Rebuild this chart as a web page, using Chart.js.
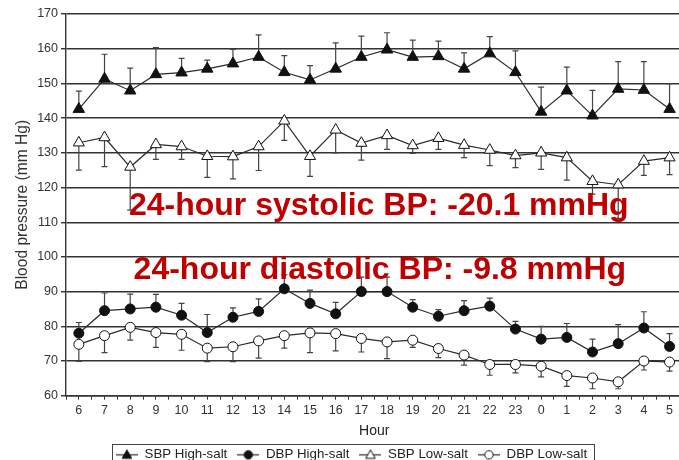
<!DOCTYPE html>
<html>
<head>
<meta charset="utf-8">
<title>24-hour blood pressure: high-salt vs low-salt diet</title>
<script src="https://cdn.jsdelivr.net/npm/chart.js@4.4.1/dist/chart.umd.min.js"></script>
<style>
  html, body { margin: 0; padding: 0; background: #fff; overflow: hidden; }
  #wrap { position: relative; width: 679px; height: 460px; overflow: hidden; background: #fff; }
  #bp { position: absolute; left: 0; top: 0; }
</style>
</head>
<body>
<div id="wrap"><canvas id="bp" width="690" height="471"></canvas></div>
<script>
// Clock hours, starting at 6 in the morning
const hours = ['6','7','8','9','10','11','12','13','14','15','16','17',
               '18','19','20','21','22','23','0','1','2','3','4','5'];

// Hourly means (mm Hg)
const sbpHigh = [142.6, 151.3, 147.9, 152.6, 153.1, 154.2, 155.7, 157.6, 153.2, 151.0, 154.2, 157.6,
                 159.7, 157.6, 157.8, 154.2, 158.6, 153.2, 141.8, 147.9, 140.7, 148.4, 148.1, 142.6];
const dbpHigh = [78.0, 84.5, 85.0, 85.5, 83.2, 78.2, 82.6, 84.3, 90.8, 86.6, 83.6, 90.0,
                 90.0, 85.5, 82.9, 84.5, 85.8, 79.2, 76.3, 76.8, 72.6, 75.0, 79.5, 74.2];
const sbpLow  = [132.9, 134.4, 125.9, 132.4, 131.8, 129.0, 128.9, 131.8, 139.2, 129.0, 136.6, 132.8,
                 135.0, 132.1, 134.2, 132.2, 130.8, 129.2, 130.0, 128.6, 121.8, 120.8, 127.6, 128.6];
const dbpLow  = [74.8, 77.3, 79.7, 78.2, 77.7, 73.7, 74.1, 75.8, 77.3, 78.1, 77.9, 76.5,
                 75.5, 76.0, 73.6, 71.7, 69.0, 69.0, 68.5, 65.8, 65.1, 64.0, 70.0, 69.7];

// Error bar lengths (mm Hg); high-salt bars point up, low-salt bars point down
const sbpHighErr = [5.2, 7.1, 6.5, 7.7, 4.1, 2.5, 4.1, 6.4, 4.8, 4.1, 7.5, 6.0,
                    4.9, 4.9, 4.4, 4.6, 4.9, 6.2, 7.1, 6.8, 7.3, 7.9, 8.2, 7.3];
const dbpHighErr = [3.1, 5.1, 4.3, 3.7, 3.4, 5.2, 2.7, 3.6, 4.0, 3.8, 3.3, 4.2,
                    4.2, 2.2, 1.9, 2.9, 2.3, 2.2, 3.7, 4.0, 3.7, 5.5, 4.7, 3.7];
const sbpLowErr  = [7.9, 8.4, 12.4, 4.3, 3.7, 6.1, 6.4, 6.9, 5.6, 5.8, 6.6, 4.9,
                    4.0, 2.3, 3.2, 3.6, 4.5, 3.5, 4.8, 6.5, 3.7, 9.7, 4.1, 4.9];
const dbpLowErr  = [4.9, 4.9, 3.7, 4.3, 4.6, 3.9, 4.3, 5.0, 3.6, 5.7, 5.0, 3.9,
                    4.8, 2.1, 2.6, 2.9, 3.1, 2.4, 3.1, 3.1, 3.1, 2.0, 2.6, 2.6];

// Y axis ticks
const yTicks = [60, 70, 80, 90, 100, 110, 120, 130, 140, 150, 160, 170];

// Summary differences written across the plot
const notes = ['24-hour systolic BP: -20.1 mmHg', '24-hour diastolic BP: -9.8 mmHg'];

const INK = '#2a2a2a';
const FONT = '"Liberation Sans", Arial, Helvetica, sans-serif';

const toPoints = vals => vals.map((v, i) => ({ x: i, y: v }));

// Small line-plus-marker swatches for the legend
function swatch(kind) {
  const c = document.createElement('canvas');
  c.width = 22; c.height = 14;
  const g = c.getContext('2d');
  g.strokeStyle = INK; g.lineWidth = 1.2;
  g.beginPath(); g.moveTo(0, 7.5); g.lineTo(22, 7.5); g.stroke();
  g.lineWidth = 1;
  g.beginPath();
  if (kind.startsWith('tri')) {
    g.moveTo(11, 2.5); g.lineTo(15.8, 11); g.lineTo(6.2, 11); g.closePath();
  } else {
    g.arc(11, 7.5, 4.2, 0, Math.PI * 2);
  }
  g.fillStyle = kind.endsWith('Filled') ? '#111' : '#fff';
  g.fill(); g.strokeStyle = '#111'; g.stroke();
  return c;
}

function series(label, vals, errs, dir, style, filled, radius) {
  return {
    label,
    data: toPoints(vals),
    errs, dir,
    swatch: swatch((style === 'triangle' ? 'tri' : 'circ') + (filled ? 'Filled' : 'Open')),
    borderColor: INK,
    borderWidth: 1.2,
    pointStyle: style,
    pointRadius: radius,
    pointBorderWidth: 1,
    pointBorderColor: '#111',
    pointBackgroundColor: filled ? '#111' : '#fff',
    fill: false,
    tension: 0
  };
}

// Error bars: a stem from the mean plus a short cap
const errorBars = {
  id: 'errorBars',
  beforeDatasetsDraw(chart) {
    const { ctx, scales: { x, y } } = chart;
    ctx.save();
    ctx.strokeStyle = '#444';
    ctx.lineWidth = 1.2;
    chart.data.datasets.forEach(ds => {
      ds.errs.forEach((e, i) => {
        const v = ds.data[i].y;
        const px = x.getPixelForValue(i);
        const y0 = y.getPixelForValue(v);
        const y1 = y.getPixelForValue(v + ds.dir * e);
        ctx.beginPath();
        ctx.moveTo(px, y0); ctx.lineTo(px, y1);
        ctx.moveTo(px - 3, y1); ctx.lineTo(px + 3, y1);
        ctx.stroke();
      });
    });
    ctx.restore();
  }
};

// Red summary notes
const summaryNotes = {
  id: 'summaryNotes',
  afterDatasetsDraw(chart) {
    const { ctx, scales: { x, y } } = chart;
    ctx.save();
    ctx.fillStyle = '#c00000';
    ctx.font = 'bold 32px ' + FONT;
    ctx.textAlign = 'center';
    ctx.textBaseline = 'alphabetic';
    ctx.fillText(notes[0], x.getPixelForValue(11.68), y.getPixelForValue(112.2));
    ctx.fillText(notes[1], x.getPixelForValue(11.72), y.getPixelForValue(93.6));
    ctx.restore();
  }
};

// Legend placement and frame
const legendFrame = {
  id: 'legendFrame',
  afterLayout(chart) {
    const lg = chart.legend;
    const shift = 351.5 - (lg.left + lg.right) / 2;
    lg.left += shift; lg.right += shift;
  },
  afterDraw(chart) {
    const boxes = chart.legend.legendHitBoxes;
    if (!boxes || !boxes.length) return;
    const l = Math.min(...boxes.map(b => b.left)) - 4;
    const r = Math.max(...boxes.map(b => b.left + b.width)) + 7;
    const cy = boxes[0].top + boxes[0].height / 2;
    const { ctx } = chart;
    ctx.save();
    ctx.strokeStyle = '#444';
    ctx.lineWidth = 1;
    ctx.strokeRect(Math.round(l) + 0.5, Math.round(cy - 10) + 0.5, Math.round(r - l), 22);
    ctx.restore();
  }
};

new Chart(document.getElementById('bp'), {
  type: 'line',
  data: {
    datasets: [
      series('SBP High-salt', sbpHigh, sbpHighErr, 1, 'triangle', true, 6.6),
      series('DBP High-salt', dbpHigh, dbpHighErr, 1, 'circle', true, 5),
      series('SBP Low-salt', sbpLow, sbpLowErr, -1, 'triangle', false, 6.4),
      series('DBP Low-salt', dbpLow, dbpLowErr, -1, 'circle', false, 5)
    ]
  },
  options: {
    responsive: false,
    animation: false,
    devicePixelRatio: 1,
    layout: { padding: { top: 14, left: 0, right: 5, bottom: 0 } },
    plugins: {
      tooltip: { enabled: false },
      legend: {
        position: 'bottom',
        labels: {
          usePointStyle: true,
          pointStyleWidth: 22,
          padding: 10,
          color: '#222',
          font: { family: FONT, size: 13.3 },
          generateLabels(chart) {
            return chart.data.datasets.map((ds, i) => ({
              text: ds.label,
              pointStyle: ds.swatch,
              fillStyle: '#111',
              strokeStyle: '#111',
              lineWidth: 0,
              fontColor: '#222',
              hidden: false,
              datasetIndex: i
            }));
          }
        }
      }
    },
    scales: {
      x: {
        type: 'linear',
        min: -0.5,
        max: hours.length - 0.5,
        afterFit(scale) { scale.height = 42; },
        afterBuildTicks(scale) {
          const t = [];
          for (let v = -0.5; v <= hours.length - 0.5; v += 0.5) t.push({ value: v });
          scale.ticks = t;
        },
        ticks: {
          autoSkip: false,
          maxRotation: 0,
          padding: 3,
          color: '#333',
          font: { family: FONT, size: 12.5 },
          callback: v => Number.isInteger(v) ? hours[v] : ''
        },
        grid: { drawOnChartArea: false, tickLength: 4, color: '#333', lineWidth: 1 },
        border: { color: '#333', width: 1.4 },
        title: {
          display: true, text: 'Hour', color: '#222',
          font: { family: FONT, size: 14 },
          padding: { top: 0, bottom: -2 }
        }
      },
      y: {
        min: 60,
        max: 170,
        afterFit(scale) { scale.width = 66; },
        afterBuildTicks(scale) { scale.ticks = yTicks.map(v => ({ value: v })); },
        ticks: { color: '#333', padding: 3, font: { family: FONT, size: 12.5 } },
        grid: { color: '#333', lineWidth: 1.4, tickLength: 5 },
        border: { color: '#333', width: 1.4 },
        title: {
          display: true, text: 'Blood pressure (mm Hg)', color: '#333',
          font: { family: FONT, size: 15.6 },
          padding: { top: 13, bottom: 0 }
        }
      }
    }
  },
  plugins: [errorBars, summaryNotes, legendFrame]
});
</script>
</body>
</html>
